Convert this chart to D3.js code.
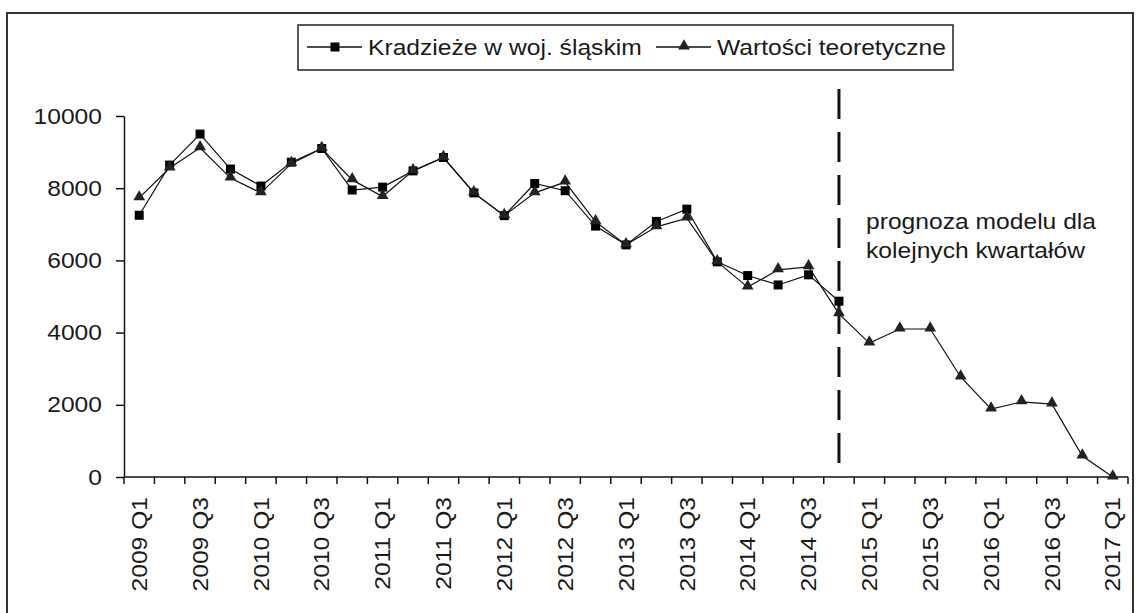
<!DOCTYPE html>
<html>
<head>
<meta charset="utf-8">
<script src="https://cdn.jsdelivr.net/npm/d3@7"></script>
<style>
  body { margin: 0; background: #fff; }
  text { font-family: "Liberation Sans", Arial, sans-serif; fill: #1a1a1a; }
</style>
</head>
<body>
<div class="chart"></div>
<script>
const years = [2009, 2010, 2011, 2012, 2013, 2014, 2015, 2016, 2017]
const quarters = ['Q1', 'Q2', 'Q3', 'Q4']
const categories = years.flatMap(y => quarters.map(q => `${y} ${q}`)).slice(0, 33)

// Kradzieże w woj. śląskim (2009 Q1 - 2014 Q4)
const actual = [
  7250, 8640, 9500, 8530,
  8060, 8720, 9100, 7950,
  8030, 8480, 8850, 7870,
  7240, 8130, 7930, 6950,
  6430, 7080, 7420, 5960,
  5580, 5320, 5600, 4870
]
// Wartości teoretyczne (2009 Q1 - 2017 Q1)
const theoretical = [
  7730, 8560, 9120, 8280,
  7870, 8680, 9100, 8230,
  7770, 8480, 8850, 7870,
  7240, 7870, 8170, 7070,
  6430, 6930, 7170, 5960,
  5260, 5740, 5820, 4520,
  3710, 4100, 4100, 2770,
  1880, 2080, 2020, 580,
  0
]
const yTicks = [0, 2000, 4000, 6000, 8000, 10000]
const legendLabels = ['Kradzieże w woj. śląskim', 'Wartości teoretyczne']
const note = ['prognoza modelu dla', 'kolejnych kwartałów']
const forecastFrom = '2014 Q4'

const W = 1137, H = 613
const margin = { top: 116, right: 9, bottom: 136, left: 124 }
const sx = 1.12 // glyphs in the reference are a bit wider than Arial

const svg = d3.select('.chart').append('svg').attr('width', W).attr('height', H)

// outer frame
svg.append('rect').attr('x', 7).attr('y', 13).attr('width', 1126).attr('height', 640)
  .attr('fill', 'none').attr('stroke', '#333').attr('stroke-width', 2)

const x = d3.scaleBand().domain(categories).range([margin.left, W - margin.right])
const y = d3.scaleLinear().domain([0, 10000]).range([H - margin.bottom, margin.top])
const cx = d => x(d) + x.bandwidth() / 2

// y axis
const yAxis = d3.axisLeft(y).tickValues(yTicks).tickFormat(d3.format('d'))
  .tickSize(8).tickSizeOuter(0)
const gy = svg.append('g').attr('transform', `translate(${margin.left},0)`).call(yAxis)
gy.select('.domain').attr('stroke', '#111').attr('stroke-width', 1.5)
gy.selectAll('.tick line').attr('stroke', '#111').attr('stroke-width', 1.5)
gy.selectAll('.tick text').attr('font-size', 22).attr('fill', '#1a1a1a')
  .attr('font-family', '"Liberation Sans", Arial, sans-serif')
  .attr('transform', `scale(${sx},1)`)
  .attr('x', -22 / sx)

// x axis
const y0 = y(0)
const gx = svg.append('g')
gx.append('line').attr('x1', margin.left).attr('x2', W - margin.right)
  .attr('y1', y0).attr('y2', y0).attr('stroke', '#111').attr('stroke-width', 1.5)
gx.selectAll('.xt').data(categories.concat(['end'])).join('line')
  .attr('class', 'xt')
  .attr('x1', d => d === 'end' ? x.range()[1] : x(d))
  .attr('x2', d => d === 'end' ? x.range()[1] : x(d))
  .attr('y1', y0).attr('y2', y0 + 7)
  .attr('stroke', '#111').attr('stroke-width', 1.5)
gx.selectAll('.xl').data(categories.filter((d, i) => i % 2 === 0)).join('text')
  .attr('class', 'xl')
  .attr('font-size', 22)
  .attr('text-anchor', 'end')
  .attr('dy', '0.35em')
  .attr('transform', d => `translate(${cx(d)},${y0 + 20}) rotate(-90) scale(${sx},1)`)
  .text(d => d)

// forecast divider
svg.append('line').attr('x1', cx(forecastFrom)).attr('x2', cx(forecastFrom))
  .attr('y1', 89).attr('y2', 470)
  .attr('stroke', '#111').attr('stroke-width', 3).attr('stroke-dasharray', '30,13')

const line = d3.line().x((d, i) => cx(categories[i])).y(d => y(d))

svg.append('path').datum(actual).attr('d', line)
  .attr('fill', 'none').attr('stroke', '#111').attr('stroke-width', 1.2)
svg.append('path').datum(theoretical).attr('d', line)
  .attr('fill', 'none').attr('stroke', '#111').attr('stroke-width', 1.2)

const sq = d3.symbol().type(d3.symbolSquare).size(81)
const tri = d3.symbol().type(d3.symbolTriangle).size(60)

svg.selectAll('.sq').data(actual).join('path').attr('class', 'sq')
  .attr('d', sq).attr('fill', '#000')
  .attr('transform', (d, i) => `translate(${cx(categories[i])},${y(d)})`)
svg.selectAll('.tri').data(theoretical).join('path').attr('class', 'tri')
  .attr('d', tri).attr('fill', '#222')
  .attr('transform', (d, i) => `translate(${cx(categories[i])},${y(d) - 1})`)

// annotation
svg.selectAll('.note').data(note).join('text').attr('class', 'note')
  .attr('font-size', 22)
  .attr('transform', (d, i) => `translate(866,${229 + i * 29}) scale(${sx},1)`)
  .text(d => d)

// legend
const lg = svg.append('g')
lg.append('rect').attr('x', 298).attr('y', 25).attr('width', 655).attr('height', 45)
  .attr('fill', '#fff').attr('stroke', '#222').attr('stroke-width', 1.5)
const items = [
  { label: legendLabels[0], x0: 307, sym: sq, fill: '#000', dy: 0 },
  { label: legendLabels[1], x0: 656, sym: tri, fill: '#222', dy: -1 }
]
items.forEach(it => {
  lg.append('line').attr('x1', it.x0).attr('x2', it.x0 + 55).attr('y1', 47).attr('y2', 47)
    .attr('stroke', '#111').attr('stroke-width', 1.5)
  lg.append('path').attr('d', it.sym).attr('fill', it.fill)
    .attr('transform', `translate(${it.x0 + 28},${47 + it.dy})`)
  lg.append('text').attr('font-size', 22)
    .attr('transform', `translate(${it.x0 + 61},55) scale(${sx},1)`)
    .text(it.label)
})
</script>
</body>
</html>
